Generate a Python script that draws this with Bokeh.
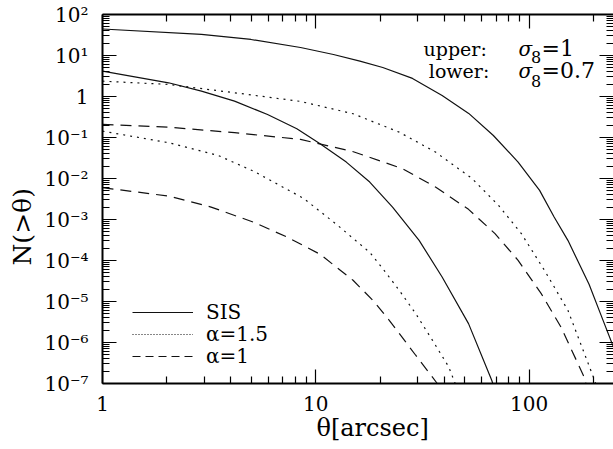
import math
from bokeh.plotting import figure
from bokeh.models import (FixedTicker, CustomJSTickFormatter, LogAxis, Label,
                          Legend, LegendItem, Range1d, Title)
from bokeh.embed import file_html
from bokeh.resources import INLINE

# ---------------- data ----------------
# SIS, sigma8 = 1 (upper solid)
sis_hi_theta = [1, 2.91, 4.97, 8.48, 12.1, 16.1, 20.6, 28.4, 39.1, 52.1, 68.0,
                88.8, 112, 131, 152, 191, 216, 250]
sis_hi_n = [44.3, 32.6, 24.6, 15.7, 10.6, 7.27, 5.11, 2.76, 1.06, 0.387, 0.112,
            0.0251, 5.13e-3, 1.15e-3, 3.10e-4, 2.63e-5, 5.07e-6, 7.2e-7]
# SIS, sigma8 = 0.7 (lower solid)
sis_lo_theta = [1, 2.04, 2.91, 4.16, 5.94, 8.15, 10.47, 13.9, 17.9, 22.9, 30.5,
                39.1, 52.0, 66.8, 68.2]
sis_lo_n = [4.15, 2.16, 1.35, 0.771, 0.365, 0.164, 0.0706, 0.0251, 8.18e-3,
            2.01e-3, 3.10e-4, 3.96e-5, 2.89e-6, 1.2e-7, 8.6e-8]
# alpha = 1.5, sigma8 = 1 (upper dotted)
a15_hi_theta = [1, 2.04, 4.16, 8.48, 14.95, 24.6, 36.4, 53.9, 71.9, 92.0, 118,
                152, 201, 207]
a15_hi_n = [2.37, 1.97, 1.235, 0.758, 0.380, 0.135, 0.0441, 0.0101, 2.21e-3,
            4.52e-4, 5.77e-5, 6.11e-6, 1.35e-7, 8.6e-8]
# alpha = 1, sigma8 = 1 (upper dashed)
a1_hi_theta = [1, 2.04, 4.16, 8.48, 15.0, 25.5, 36.4, 52.0, 69.2, 88.8, 114,
               141, 181, 186]
a1_hi_n = [0.2085, 0.179, 0.1308, 0.0899, 0.0450, 0.01735, 6.18e-3, 1.77e-3,
           4.52e-4, 1.01e-4, 1.56e-5, 2.39e-6, 1.45e-7, 8.6e-8]
# alpha = 1.5, sigma8 = 0.7 (lower dotted)
a15_lo_theta = [1, 2.04, 3.48, 5.13, 8.76, 12.5, 17.9, 20.6, 24.6, 29.4, 35.2,
                42.0, 45.9]
a15_lo_n = [0.143, 0.0746, 0.0366, 0.0149, 3.28e-3, 7.62e-4, 1.58e-4, 6.34e-5,
            1.88e-5, 5.07e-6, 1.14e-6, 2.54e-7, 7.7e-8]
# alpha = 1, sigma8 = 0.7 (lower dashed)
a1_lo_theta = [1, 2.04, 3.23, 5.13, 7.33, 10.47, 14.95, 18.5, 22.1, 29.4, 37.1,
               37.9]
a1_lo_n = [5.97e-3, 3.73e-3, 2.01e-3, 8.52e-4, 3.73e-4, 1.42e-4, 3.29e-5,
           1.07e-5, 3.48e-6, 4.89e-7, 1.0e-7, 8.1e-8]

legend_labels = ["SIS", "α=1.5", "α=1"]

x_tick_values = [1, 10, 100]
x_tick_labels = ["1", "10", "100"]
y_tick_exps = [-7, -6, -5, -4, -3, -2, -1, 0, 1, 2]
y_tick_labels = ["10⁻⁷", "10⁻⁶", "10⁻⁵", "10⁻⁴", "10⁻³", "10⁻²", "10⁻¹",
                 "1", "10¹", "10²"]

x_title = "θ[arcsec]"
y_title = "N(>θ)"

# ---------------- figure ----------------
FONT = "DejaVu Serif"
INK = "#111111"

p = figure(width=613, height=449, x_axis_type="log", y_axis_type="log",
           x_range=Range1d(1, 248.7), y_range=Range1d(1e-7, 1e2),
           output_backend="svg", toolbar_location=None,
           min_border_left=97, min_border_right=0, min_border_top=14,
           min_border_bottom=66)
p.outline_line_color = None
p.grid.visible = False
p.background_fill_color = "white"
p.border_fill_color = "white"

x_minor = [m * 10.0 ** e for e in range(0, 3) for m in range(2, 10)]
y_major = [10.0 ** e for e in y_tick_exps]
y_minor = [m * 10.0 ** e for e in y_tick_exps[:-1] for m in range(2, 10)]
x_ticker = FixedTicker(ticks=x_tick_values, minor_ticks=x_minor)
y_ticker = FixedTicker(ticks=y_major, minor_ticks=y_minor)

x_fmt = CustomJSTickFormatter(args=dict(vals=x_tick_values, labels=x_tick_labels), code="""
const i = vals.findIndex(v => Math.abs(Math.log10(v) - Math.log10(tick)) < 1e-6);
return i < 0 ? '' : labels[i];
""")
y_fmt = CustomJSTickFormatter(args=dict(exps=y_tick_exps, labels=y_tick_labels), code="""
const e = Math.round(Math.log10(tick));
const i = exps.indexOf(e);
return i < 0 ? '' : labels[i];
""")
blank = CustomJSTickFormatter(code="return '';")


def style_axis(ax):
    ax.axis_line_width = 2
    ax.axis_line_color = "black"
    ax.major_tick_in = 14
    ax.major_tick_out = 0
    ax.minor_tick_in = 7
    ax.minor_tick_out = 0
    ax.major_tick_line_width = 1.2
    ax.minor_tick_line_width = 1.2
    ax.major_tick_line_color = "black"
    ax.minor_tick_line_color = "black"
    ax.major_label_text_font = FONT
    ax.major_label_text_font_size = "20px"
    ax.major_label_text_color = "black"


xa = p.xaxis[0]
xa.ticker = x_ticker
xa.formatter = x_fmt
style_axis(xa)
xa.major_label_standoff = 12

ya = p.yaxis[0]
ya.ticker = y_ticker
ya.formatter = y_fmt
style_axis(ya)
ya.major_label_standoff = 14

top = LogAxis(ticker=x_ticker, formatter=blank)
style_axis(top)
top.major_label_standoff = 0
p.add_layout(top, "above")

right = LogAxis(ticker=y_ticker, formatter=blank)
style_axis(right)
right.major_label_standoff = 0
right.axis_line_color = None
p.add_layout(right, "right")

# axis titles (side-panel titles, placed along the frame with an offset)
xt = Title(text=x_title, align="left", offset=214, vertical_align="top",
           text_font=FONT, text_font_size="24px", text_font_style="normal",
           text_color="black", standoff=0)
p.add_layout(xt, "below")

yt = Title(text=y_title, align="left", offset=118, vertical_align="bottom",
           text_font=FONT, text_font_size="25px", text_font_style="normal",
           text_color="black", standoff=10)
p.add_layout(yt, "left")

# ---------------- curves ----------------
DOT = "2 5"
DASH = "11 7"
p.line(sis_hi_theta, sis_hi_n, line_color=INK, line_width=1.2)
p.line(sis_lo_theta, sis_lo_n, line_color=INK, line_width=1.2)
p.line(a15_hi_theta, a15_hi_n, line_color=INK, line_width=1.2, line_dash=DOT)
p.line(a15_lo_theta, a15_lo_n, line_color=INK, line_width=1.2, line_dash=DOT)
p.line(a1_hi_theta, a1_hi_n, line_color=INK, line_width=1.2, line_dash=DASH)
p.line(a1_lo_theta, a1_lo_n, line_color=INK, line_width=1.2, line_dash=DASH)

# legend-only renderers: a single point each (draws nothing on the plot),
# carrying the legend's own line styles
lg_solid = p.line(sis_hi_theta[:1], sis_hi_n[:1], line_color=INK, line_width=1.2)
lg_dot = p.line(a15_hi_theta[:1], a15_hi_n[:1], line_color=INK, line_width=1.2,
                line_dash="1 2")
lg_dash = p.line(a1_hi_theta[:1], a1_hi_n[:1], line_color=INK, line_width=1.2,
                 line_dash="8 5")

# one single-item legend per row, so that the rows sit 22 px apart
for label, rend, ly in zip(legend_labels, [lg_solid, lg_dot, lg_dash], [59, 37, 15]):
    lg = Legend(items=[LegendItem(label=label, renderers=[rend])],
                location=(30, ly), glyph_width=61, glyph_height=22,
                label_height=20, label_standoff=13, spacing=0, padding=0,
                margin=0, border_line_color=None, background_fill_alpha=0,
                label_text_font=FONT, label_text_font_size="20px",
                label_text_line_height=1.0, label_text_color="black")
    p.add_layout(lg)


def lab(x, y, text, size="19px", italic=False, align="left"):
    return Label(x=x, y=y, x_units="screen", y_units="screen", text=text,
                 text_font=FONT, text_font_size=size,
                 text_font_style="italic" if italic else "normal",
                 text_align=align, text_baseline="alphabetic",
                 text_color="black")


# annotation (frame-relative screen coordinates)
p.add_layout(lab(321, 334.7, "upper:"))
p.add_layout(lab(416, 334.7, "σ", size="20px", italic=True))
p.add_layout(lab(428.5, 326.3, "8", size="16px"))
p.add_layout(lab(439, 334.7, "=1", size="22px"))
p.add_layout(lab(326.3, 313, "lower:"))
p.add_layout(lab(416, 313, "σ", size="20px", italic=True))
p.add_layout(lab(428.5, 303, "8", size="16px"))
p.add_layout(lab(439, 313, "=0.7", size="22px"))

open("out.html", "w").write(file_html(p, INLINE))
